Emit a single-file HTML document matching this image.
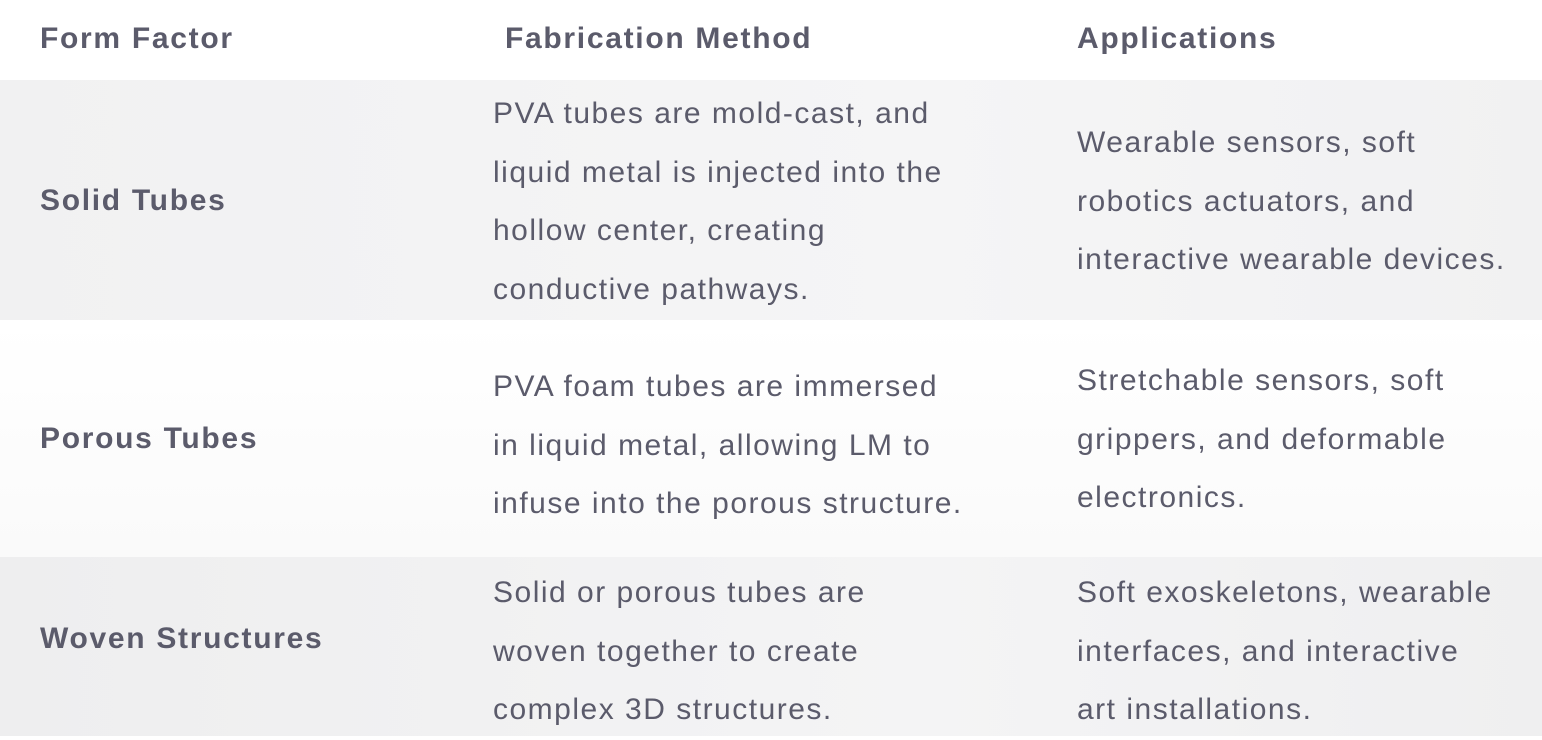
<!DOCTYPE html>
<html><head><meta charset="utf-8"><style>
html,body{margin:0;padding:0;width:1542px;height:736px;overflow:hidden;background:#fff;font-family:"Liberation Sans",sans-serif;color:#5b5b6b}
.row{position:absolute;left:0;width:1542px}
.cell{position:absolute;font-size:30px;line-height:58.7px;white-space:nowrap;letter-spacing:1.5px}
.h{font-weight:700;font-size:30px;letter-spacing:1.7px}
.b{font-weight:700;letter-spacing:1.7px}
</style></head><body>
<div class="row" style="top:0;height:80px;background:#fff">
 <div class="cell h" style="left:40px;top:10px">Form Factor</div>
 <div class="cell h" style="left:505px;top:10px">Fabrication Method</div>
 <div class="cell h" style="left:1077px;top:10px">Applications</div>
</div>
<div class="row" style="top:80px;height:240px;background:linear-gradient(90deg,#f1f1f2,#f5f5f6 60%,#f1f1f2)">
 <div class="cell b" style="left:40px;top:92px">Solid Tubes</div>
 <div class="cell" style="left:493px;top:5px">PVA tubes are mold-cast, and<br>liquid metal is injected into the<br>hollow center, creating<br>conductive pathways.</div>
 <div class="cell" style="left:1077px;top:34px">Wearable sensors, soft<br>robotics actuators, and<br>interactive wearable devices.</div>
</div>
<div class="row" style="top:320px;height:237px;background:linear-gradient(180deg,#fff,#fafafa)">
 <div class="cell b" style="left:40px;top:90px">Porous Tubes</div>
 <div class="cell" style="left:493px;top:38px">PVA foam tubes are immersed<br>in liquid metal, allowing LM to<br>infuse into the porous structure.</div>
 <div class="cell" style="left:1077px;top:32px">Stretchable sensors, soft<br>grippers, and deformable<br>electronics.</div>
</div>
<div class="row" style="top:557px;height:179px;background:linear-gradient(90deg,#eeeeef,#f4f4f5 60%,#efeff0)">
 <div class="cell b" style="left:40px;top:53px">Woven Structures</div>
 <div class="cell" style="left:493px;top:7px">Solid or porous tubes are<br>woven together to create<br>complex 3D structures.</div>
 <div class="cell" style="left:1077px;top:7px">Soft exoskeletons, wearable<br>interfaces, and interactive<br>art installations.</div>
</div>
</body></html>
